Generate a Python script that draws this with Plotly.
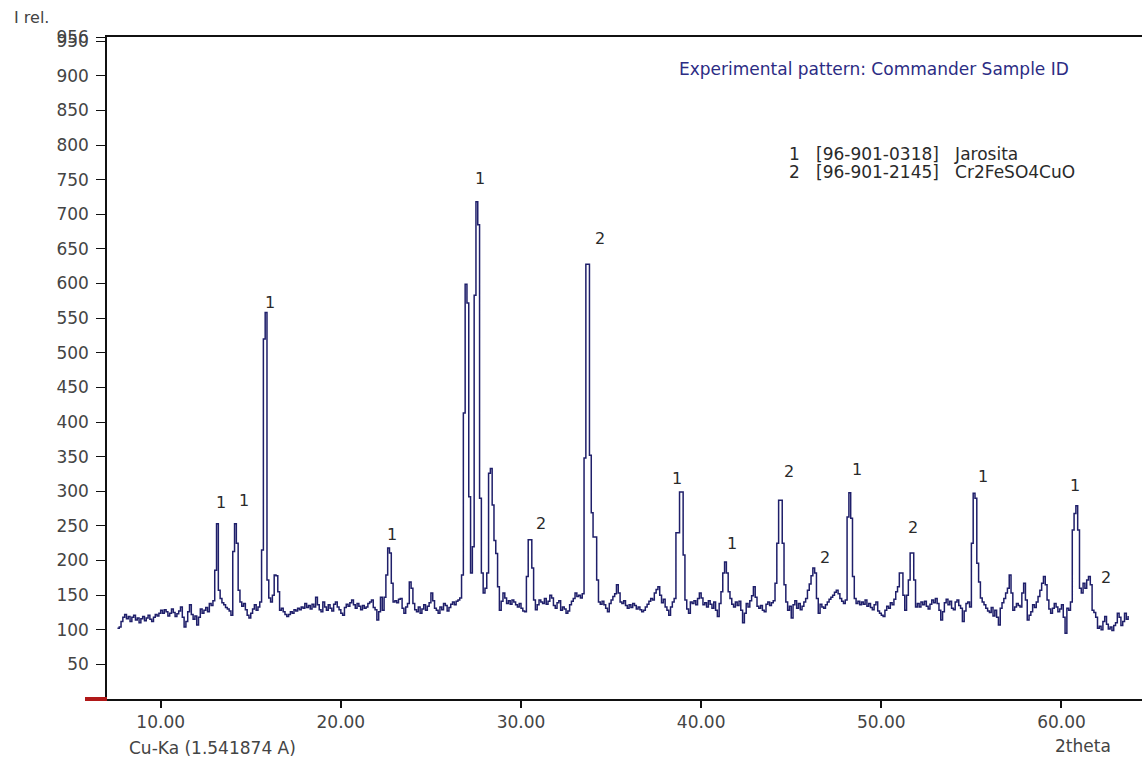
import numpy as np
import plotly.graph_objects as go

# Powder diffraction scan: 2-theta sampled every 0.1 degree from 7.6
theta_start = 7.6
theta_step = 0.1

intensity_rows = [
    [102, 104, 112, 118],                                   # 7.6 - 7.9
    [122, 116, 119, 112, 118, 121, 114, 117, 110, 116],     # 8
    [119, 113, 117, 121, 115, 112, 118, 122, 120, 124],     # 9
    [128, 124, 129, 126, 120, 124, 130, 125, 119, 123],     # 10
    [127, 133, 118, 104, 112, 126, 136, 122, 115, 120],     # 11
    [107, 118, 130, 124, 128, 132, 126, 138, 135, 142],     # 12
    [186, 253, 157, 145, 139, 136, 132, 130, 127, 121],     # 13
    [213, 253, 225, 157, 140, 134, 138, 129, 121, 117],     # 14
    [124, 130, 136, 128, 133, 140, 215, 520, 558, 172],     # 15
    [146, 140, 150, 179, 178, 155, 128, 131, 126, 122],     # 16
    [119, 122, 126, 124, 129, 127, 131, 129, 133, 131],     # 17
    [138, 132, 135, 130, 137, 133, 147, 136, 129, 126],     # 18
    [140, 133, 128, 136, 131, 127, 137, 140, 133, 129],     # 19
    [124, 121, 132, 137, 134, 139, 143, 136, 131, 138],     # 20
    [134, 129, 135, 131, 133, 138, 140, 143, 132, 129],     # 21
    [114, 126, 147, 128, 147, 179, 218, 211, 167, 140],     # 22
    [142, 139, 144, 145, 131, 124, 133, 138, 169, 160],     # 23
    [138, 129, 126, 133, 124, 130, 136, 128, 134, 139],     # 24
    [153, 142, 131, 128, 124, 133, 129, 138, 135, 127],     # 25
    [132, 137, 140, 136, 141, 143, 146, 179, 413, 599],     # 26
    [572, 292, 182, 220, 583, 718, 685, 290, 182, 153],     # 27
    [160, 182, 326, 333, 280, 229, 210, 162, 128, 141],     # 28
    [153, 146, 138, 142, 137, 143, 140, 136, 133, 138],     # 29
    [131, 127, 126, 177, 230, 230, 189, 143, 129, 136],     # 30
    [143, 140, 138, 145, 137, 141, 150, 146, 135, 131],     # 31
    [139, 142, 128, 133, 130, 124, 127, 136, 141, 145],     # 32
    [153, 148, 150, 146, 152, 348, 628, 628, 352, 269],     # 33
    [234, 234, 172, 140, 137, 141, 136, 131, 126, 138],     # 34
    [143, 148, 152, 165, 153, 140, 138, 142, 135, 131],     # 35
    [136, 132, 138, 135, 130, 133, 129, 126, 128, 133],     # 36
    [137, 141, 145, 143, 153, 158, 162, 150, 139, 144],     # 37
    [133, 128, 121, 133, 140, 145, 240, 240, 299, 299],     # 38
    [208, 143, 130, 124, 140, 138, 142, 136, 145, 153],     # 39
    [146, 136, 139, 133, 142, 137, 131, 140, 128, 119],     # 40
    [138, 155, 182, 198, 182, 155, 145, 137, 133, 140],     # 41
    [135, 141, 128, 110, 124, 138, 133, 142, 149, 162],     # 42
    [147, 134, 131, 135, 128, 126, 137, 140, 135, 139],     # 43
    [142, 167, 225, 287, 287, 225, 165, 140, 128, 134],     # 44
    [117, 136, 142, 131, 138, 129, 134, 140, 145, 157],     # 45
    [166, 178, 189, 182, 145, 124, 137, 133, 131, 136],     # 46
    [140, 144, 147, 150, 154, 157, 152, 145, 141, 138],     # 47
    [143, 263, 298, 261, 177, 145, 138, 141, 136, 140],     # 48
    [137, 143, 134, 138, 132, 129, 136, 140, 127, 124],     # 49
    [121, 119, 128, 134, 131, 139, 136, 144, 155, 162],     # 50
    [182, 182, 150, 128, 150, 172, 211, 211, 172, 133],     # 51
    [138, 133, 140, 136, 141, 134, 130, 137, 143, 139],     # 52
    [145, 138, 128, 114, 126, 139, 144, 136, 141, 131],     # 53
    [129, 140, 143, 135, 131, 112, 127, 138, 140, 133],     # 54
    [225, 297, 290, 196, 169, 146, 140, 136, 131, 127],     # 55
    [125, 132, 120, 128, 118, 107, 131, 139, 145, 153],     # 56
    [160, 179, 153, 128, 133, 138, 135, 133, 153, 167],     # 57
    [143, 114, 121, 126, 136, 132, 140, 148, 157, 167],     # 58
    [177, 165, 143, 130, 124, 131, 138, 133, 126, 130],     # 59
    [136, 118, 95, 131, 128, 140, 244, 268, 279, 244],      # 60
    [160, 153, 167, 160, 172, 177, 165, 128, 125, 118],     # 61
    [102, 105, 100, 112, 119, 108, 101, 104, 99, 106],      # 62
    [110, 124, 118, 106, 112, 124, 115, 120],               # 63.0 - 63.7
]

# Phase markers: phase number and where its tag sits (2theta, I rel.)
tag_phase = ["1", "1", "1", "1", "1", "2", "2", "1", "1", "2", "2", "1", "2", "1", "1", "2"]
tag_theta = [13.33, 14.61, 16.05, 22.83, 27.71, 34.38, 31.10, 38.65, 41.70,
             44.87, 46.87, 48.65, 51.75, 55.64, 60.75, 62.47]
tag_level = [284, 287, 573, 237, 752, 665, 254, 319, 225,
             328, 204, 331, 247, 321, 308, 175]

phase_entries = ["1   [96-901-0318]   Jarosita", "2   [96-901-2145]   Cr2FeSO4CuO"]

y_ticks = list(range(50, 951, 50)) + [956]
x_ticks = [10, 20, 30, 40, 50, 60]

intensity = np.concatenate([np.array(r, dtype=float) for r in intensity_rows])
theta = np.round(theta_start + theta_step * np.arange(intensity.size), 2)

FONT = "DejaVu Sans"
W, H = 1142, 759
ML, MR, MT, MB = 107, 0, 37, 60
PW, PH = W - ML - MR, H - MT - MB


def px(x):
    return (x - ML) / PW


def py(y):
    return (H - MB - y) / PH


fig = go.Figure()
fig.add_trace(go.Scatter(
    x=theta, y=intensity, mode="lines",
    line=dict(shape="hv", color="#1f1f6a", width=1.5),
    hoverinfo="skip", showlegend=False,
))

annotations = []
for lab, tx, ty in zip(tag_phase, tag_theta, tag_level):
    annotations.append(dict(x=tx, y=ty, xref="x", yref="y", text=lab, showarrow=False,
                            font=dict(family=FONT, size=16, color="#2a2a2a")))

annotations += [
    dict(x=px(12), y=py(17), xref="paper", yref="paper", text="I rel.", showarrow=False,
         xanchor="left", yanchor="middle", font=dict(family=FONT, size=16, color="#444444")),
    dict(x=px(127), y=py(748), xref="paper", yref="paper", text="Cu-Ka (1.541874 A)",
         showarrow=False, xanchor="left", yanchor="middle",
         font=dict(family=FONT, size=17, color="#444444")),
    dict(x=px(1053), y=py(746), xref="paper", yref="paper", text="2theta", showarrow=False,
         xanchor="left", yanchor="middle", font=dict(family=FONT, size=17, color="#444444")),
    dict(x=px(677), y=py(69), xref="paper", yref="paper",
         text="Experimental pattern: Commander Sample ID", showarrow=False,
         xanchor="left", yanchor="middle", font=dict(family=FONT, size=17, color="#2c2c84")),
]
for i, entry in enumerate(phase_entries):
    annotations.append(dict(x=px(787), y=py(154 + 18 * i), xref="paper", yref="paper",
                            text=entry.replace(" ", "&nbsp;"), showarrow=False,
                            xanchor="left", yanchor="middle",
                            font=dict(family=FONT, size=17, color="#2a2a2a")))

fig.update_layout(
    width=W, height=H,
    margin=dict(l=ML, r=MR, t=MT, b=MB, pad=0),
    paper_bgcolor="white", plot_bgcolor="white",
    annotations=annotations,
    shapes=[dict(type="line", xref="paper", yref="paper", x0=px(85), x1=0, y0=0, y1=0,
                 line=dict(color="#b01818", width=4))],
)
fig.update_xaxes(
    range=[7.02, 64.47], tickvals=x_ticks, ticktext=[f"{v:.2f}" for v in x_ticks],
    showgrid=False, zeroline=False, showline=True, linecolor="#111111", linewidth=1.5,
    mirror=True, ticks="outside", ticklen=7, tickwidth=1.5, tickcolor="#111111",
    tickfont=dict(family=FONT, size=17, color="#444444"),
)
fig.update_yaxes(
    range=[0, 956], tickvals=y_ticks, ticktext=[str(v) for v in y_ticks],
    showgrid=False, zeroline=False, showline=True, linecolor="#111111", linewidth=1.5,
    ticks="outside", ticklen=9, tickwidth=1.2, tickcolor="#111111", ticklabelstandoff=4,
    tickfont=dict(family=FONT, size=17, color="#444444"),
)

fig.write_html("out.html")
